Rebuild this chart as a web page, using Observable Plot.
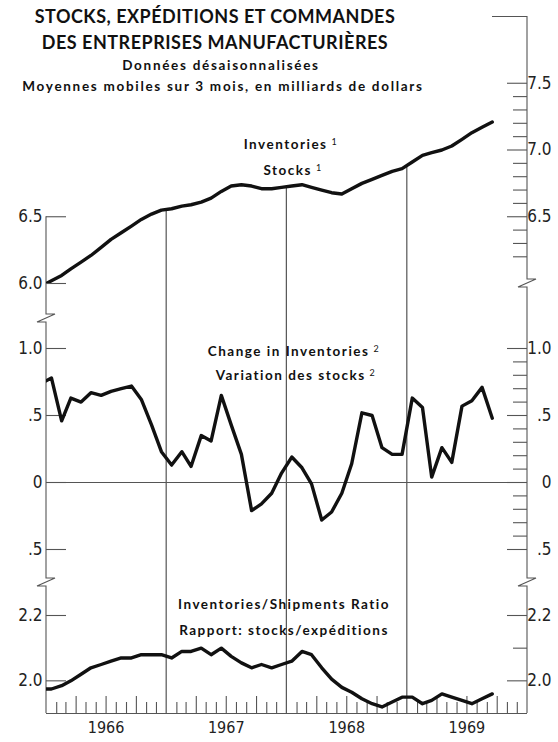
<!DOCTYPE html>
<html><head><meta charset="utf-8">
<script src="https://cdn.jsdelivr.net/npm/d3@7"></script>
<script src="https://cdn.jsdelivr.net/npm/@observablehq/plot@0.6"></script>
<style>
html,body{margin:0;padding:0;background:#fff;}
#wrap{position:relative;width:558px;height:742px;overflow:hidden;background:#fff;}
#wrap svg{position:absolute;left:0;overflow:visible;}
.t{position:absolute;white-space:nowrap;transform:translate(-50%,-50%);font-family:Lato,"Noto Sans",sans-serif;color:#111;font-weight:700;}
.title{font-size:18px;letter-spacing:0.5px;}
.sub{font-size:13.5px;letter-spacing:1.7px;}
.lab{font-size:13.5px;letter-spacing:1.5px;}
.lab sup{font-size:9px;vertical-align:0;position:relative;top:-4px;margin-left:4px;font-weight:400;}
</style></head><body><div id="wrap"></div>
<script>
// ---- data (monthly, 3-month moving averages, billions of dollars); first value = Dec 1965
const firstMonth = "1965-12";
const inventories = [5.98, 6.02, 6.06, 6.11, 6.16, 6.21, 6.27, 6.33, 6.38, 6.43, 6.48, 6.52,
  6.55, 6.56, 6.58, 6.59, 6.61, 6.64, 6.69, 6.73, 6.74, 6.73, 6.71, 6.71,
  6.72, 6.73, 6.74, 6.72, 6.70, 6.68, 6.67, 6.71, 6.75, 6.78, 6.81, 6.84,
  6.86, 6.91, 6.96, 6.98, 7.00, 7.03, 7.08, 7.13, 7.17, 7.21];
const change = [0.74, 0.78, 0.46, 0.63, 0.60, 0.67, 0.65, 0.68, 0.70, 0.72, 0.62, 0.43,
  0.23, 0.13, 0.23, 0.12, 0.35, 0.31, 0.65, 0.43, 0.21, -0.21, -0.16, -0.08,
  0.07, 0.19, 0.11, -0.01, -0.28, -0.22, -0.08, 0.14, 0.52, 0.50, 0.26, 0.21,
  0.21, 0.63, 0.56, 0.04, 0.26, 0.15, 0.57, 0.61, 0.71, 0.48];
const ratio = [1.975, 1.975, 1.985, 2.00, 2.02, 2.04, 2.05, 2.06, 2.07, 2.07, 2.08, 2.08,
  2.08, 2.07, 2.09, 2.09, 2.10, 2.08, 2.10, 2.075, 2.055, 2.04, 2.05, 2.04,
  2.05, 2.06, 2.09, 2.08, 2.04, 2.005, 1.98, 1.965, 1.945, 1.93, 1.92, 1.935,
  1.95, 1.95, 1.93, 1.94, 1.96, 1.95, 1.94, 1.93, 1.945, 1.96];
const yearLabels = ["1966", "1967", "1968", "1969"];
// tick values
const invLeftTicks = [6.0, 6.5];
const invTopTick = [8.0];
const invRightMajor = [7.5, 7.0, 6.5];
const invRightMinor = [7.4, 7.3, 7.2, 7.1, 6.9, 6.8, 6.7, 6.6, 6.4, 6.3, 6.2];
const chgLeftTicks = [1.0, 0.5, 0, -0.5];
const chgRightMajor = [1.0, 0.5, 0, -0.5];
const chgRightMinor = [0.9, 0.8, 0.7, 0.6, 0.4, 0.3, 0.2, 0.1, -0.1, -0.2, -0.3, -0.4];
const ratLeftTicks = [2.2, 2.0];
const ratRightMajor = [2.2, 2.0];
const ratRightMinor = [2.1];

// ---- setup
const axisColor = "#555", ruleColor = "#444", lineColor = "#111";
const W = 558, ML = 46, MR = 31, FW = W - ML - MR;
const tickFont = '"DejaVu Sans Condensed","DejaVu Sans",sans-serif';
const start = d3.utcParse("%Y-%m")(firstMonth);
const dates = inventories.map((_, i) => d3.utcDay.offset(d3.utcMonth.offset(start, i), 15));
const xDomain = [new Date(Date.UTC(1966, 0, 1)), new Date(Date.UTC(1970, 0, 1))];
const yearStarts = yearLabels.slice(1).map(y => new Date(Date.UTC(+y, 0, 1)));
const yearMids = yearLabels.map(y => new Date(Date.UTC(+y, 6, 1)));
const monthTicks = d3.utcMonth.range(...xDomain).filter(d => d.getUTCMonth() !== 0);
const quarterTicks = monthTicks.filter(d => d.getUTCMonth() % 3 === 0);
const shortTicks = monthTicks.filter(d => d.getUTCMonth() % 3 !== 0);
const invAt = t => {
  const i = d3.bisectLeft(dates, t), a = dates[i - 1], b = dates[i], f = (t - a) / (b - a);
  return inventories[i - 1] * (1 - f) + inventories[i] * f;
};
const series = vals => dates.map((d, i) => ({date: d, v: vals[i]}));

function axisPath(xc, top, bottom, breaks) {
  let p = `M${xc},${top}`;
  for (const b of breaks) p += `V${b - 4}H${xc + 9}L${xc - 9},${b + 4}H${xc}`;
  return p + `V${bottom}`;
}
function decor(fn) {
  return (index, scales, values, dims) => {
    const g = d3.create("svg:g").attr("fill", "none").attr("stroke", axisColor).attr("stroke-width", 1.1);
    fn(g, scales, dims.marginLeft, dims.width - dims.marginRight, dims.height);
    return g.node();
  };
}
const baseStyle = {fontFamily: tickFont, fontSize: "17px", color: "#222", background: "transparent", overflow: "visible"};
const common = {width: W, marginLeft: ML, marginRight: MR,
  x: {type: "utc", domain: xDomain, axis: null}, style: baseStyle};
const leftTicks = v => Plot.tickY(v, {y: d => d, insetRight: FW - 20, stroke: axisColor, strokeWidth: 1.1});
const rightTicks = (v, len) => Plot.tickY(v, {y: d => d, insetLeft: FW - len, stroke: axisColor, strokeWidth: 1.1});
const leftLabels = (v, fmt) => Plot.axisY(v, {anchor: "left", tickSize: 0, tickPadding: 4, tickFormat: fmt, label: null, fill: "#222"});
const rightLabels = (v, fmt) => Plot.axisY(v, {anchor: "right", tickSize: 0, tickPadding: 24, textAnchor: "end", tickFormat: fmt, label: null, fill: "#222"});
const dataLine = vals => Plot.line(series(vals), {x: "date", y: "v", stroke: lineColor, strokeWidth: 3.4, strokeLinejoin: "round", clip: true});
const f1 = d3.format(".1f");
const fChg = d => d === 0 ? "0" : d === 1 ? "1.0" : ".5";

// ---- panel A: inventories
const svgA = Plot.plot({...common, height: 300, marginTop: 16, marginBottom: 17,
  y: {domain: [6, 8], axis: null},
  marks: [
    decor((g, {x, y}, xl, xr, H) => {
      g.append("path").attr("d", `M${xl},${y(6.5)}V${H}`);
      g.append("path").attr("d", axisPath(xr, y(8), H, [y(6)]));
      for (const t of yearStarts) g.append("path").attr("stroke", ruleColor).attr("d", `M${x(t)},${y(invAt(t))}V${H}`);
    }),
    leftTicks(invLeftTicks),
    rightTicks(invTopTick, 35),
    rightTicks(invRightMajor, 20),
    rightTicks(invRightMinor, 14),
    leftLabels(invLeftTicks, f1),
    rightLabels(invRightMajor, f1),
    dataLine(inventories)
  ]});

// ---- panel B: change in inventories
const svgB = Plot.plot({...common, height: 296, marginTop: 48, marginBottom: 47,
  y: {domain: [-0.5, 1], axis: null},
  marks: [
    decor((g, {x, y}, xl, xr, H) => {
      g.append("path").attr("d", axisPath(xl, 0, H, [18, 282]));
      g.append("path").attr("d", axisPath(xr, 0, H, [282]));
      for (const t of yearStarts) g.append("path").attr("stroke", ruleColor).attr("d", `M${x(t)},0V${H}`);
    }),
    Plot.ruleY([0], {stroke: axisColor, strokeWidth: 1.1}),
    leftTicks(chgLeftTicks),
    rightTicks(chgRightMajor, 20),
    rightTicks(chgRightMinor, 14),
    leftLabels(chgLeftTicks, fChg),
    rightLabels(chgRightMajor, fChg),
    dataLine(change)
  ]});

// ---- panel C: inventories / shipments ratio
const svgC = Plot.plot({...common, height: 146, marginTop: 19, marginBottom: 29,
  y: {domain: [1.9, 2.2], axis: null},
  marks: [
    decor((g, {x, y}, xl, xr, H) => {
      g.append("path").attr("d", `M${xl},0V${y(1.9)}`);
      g.append("path").attr("d", `M${xr},0V${y(1.9)}`);
      for (const t of yearStarts) g.append("path").attr("stroke", ruleColor).attr("d", `M${x(t)},0V${y(1.9)}`);
    }),
    Plot.ruleY([1.9], {stroke: axisColor, strokeWidth: 1.1}),
    Plot.tickX(shortTicks, {x: d => d, insetTop: 98 - 11, stroke: axisColor, strokeWidth: 1.1}),
    Plot.tickX(quarterTicks, {x: d => d, insetTop: 98 - 17, stroke: axisColor, strokeWidth: 1.1}),
    leftTicks(ratLeftTicks),
    rightTicks(ratRightMajor, 20),
    rightTicks(ratRightMinor, 14),
    leftLabels(ratLeftTicks, f1),
    rightLabels(ratRightMajor, f1),
    Plot.axisX(yearMids, {anchor: "bottom", tickSize: 0, tickPadding: 8, tickFormat: d3.utcFormat("%Y"), label: null, fontSize: 16, fill: "#222"}),
    dataLine(ratio)
  ]});

const wrap = document.getElementById("wrap");
[[svgA, 0], [svgB, 300], [svgC, 596]].forEach(([s, top]) => { s.style.top = top + "px"; wrap.appendChild(s); });

const texts = [
  ["title", 215, 16, "STOCKS, EXPÉDITIONS ET COMMANDES"],
  ["title", 215, 42, "DES ENTREPRISES MANUFACTURIÈRES"],
  ["sub", 221, 65, "Données désaisonnalisées"],
  ["sub", 223, 86, "Moyennes mobiles sur 3 mois, en milliards de dollars"],
  ["lab", 291, 144, "Inventories<sup>1</sup>"],
  ["lab", 293, 170, "Stocks<sup>1</sup>"],
  ["lab", 294, 351, "Change in Inventories<sup>2</sup>"],
  ["lab", 296, 375, "Variation des stocks<sup>2</sup>"],
  ["lab", 284, 604, "Inventories/Shipments Ratio"],
  ["lab", 284, 630, "Rapport: stocks/expéditions"]
];
for (const [cls, x, y, html] of texts) {
  const d = document.createElement("div");
  d.className = "t " + cls;
  d.style.left = x + "px"; d.style.top = y + "px";
  d.innerHTML = html;
  wrap.appendChild(d);
}
</script></body></html>
